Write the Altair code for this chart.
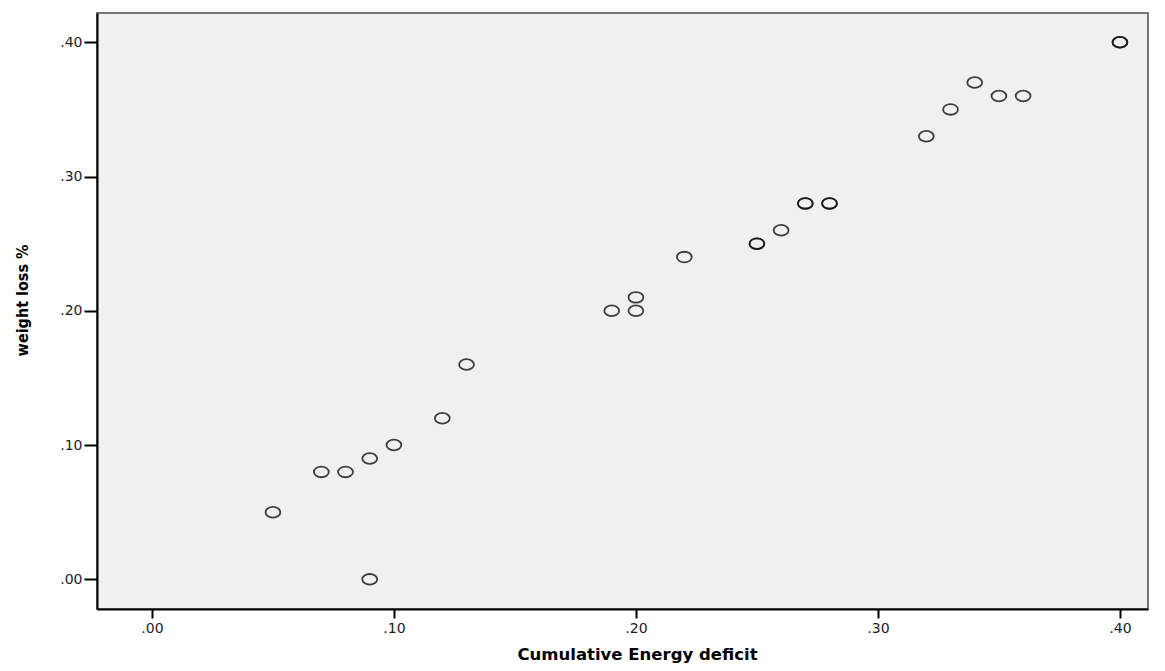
import altair as alt
import pandas as pd

energy_deficit = [0.05, 0.07, 0.08, 0.09, 0.09, 0.10, 0.12, 0.13, 0.19, 0.20, 0.20,
                  0.22, 0.25, 0.25, 0.26, 0.27, 0.27, 0.28, 0.28, 0.32, 0.33, 0.34,
                  0.35, 0.36, 0.40, 0.40]
weight_loss = [0.05, 0.08, 0.08, 0.09, 0.00, 0.10, 0.12, 0.16, 0.20, 0.20, 0.21,
               0.24, 0.25, 0.25, 0.26, 0.28, 0.28, 0.28, 0.28, 0.33, 0.35, 0.37,
               0.36, 0.36, 0.40, 0.40]
tick_values = [0.0, 0.1, 0.2, 0.3, 0.4]

df = pd.DataFrame({"ced": energy_deficit, "wl": weight_loss})

label_expr = "replace(format(datum.value, '.2f'), '0.', '.')"

ellipse = "M -1 0 A 1 0.72 0 1 1 1 0 A 1 0.72 0 1 1 -1 0 Z"

chart = alt.Chart(df).mark_point(
    shape=ellipse, filled=False, stroke="#111", strokeWidth=1.8, size=220, opacity=0.8
).encode(
    x=alt.X("ced:Q", scale=alt.Scale(domain=[-0.0227, 0.4116], nice=False, zero=False),
            axis=alt.Axis(values=tick_values, labelExpr=label_expr, grid=False,
                          title="Cumulative Energy deficit", tickSize=9, tickWidth=2,
                          domainColor="#000", domainWidth=2, tickColor="#000",
                          labelFont="DejaVu Sans", labelFontSize=14, labelColor="#222",
                          labelPadding=3,
                          titleFont="DejaVu Sans", titleFontSize=16.5, titleFontWeight="bold",
                          titleColor="#000", titleX=540, titleY=45, titleAlign="center",
                          titleBaseline="middle")),
    y=alt.Y("wl:Q", scale=alt.Scale(domain=[-0.0221, 0.4218], nice=False, zero=False),
            axis=alt.Axis(values=tick_values, labelExpr=label_expr, grid=False,
                          title="weight loss %", tickSize=13, tickWidth=2,
                          domainColor="#000", domainWidth=2, tickColor="#000",
                          labelFont="DejaVu Sans", labelFontSize=14, labelColor="#222",
                          labelPadding=2,
                          titleFont="DejaVu Sans Condensed, Liberation Sans",
                          titleFontSize=16,
                          titleFontWeight="bold", titleColor="#000", titleAngle=-90,
                          titleX=-75, titleY=287, titleAlign="center",
                          titleBaseline="middle")),
).properties(
    width=1051, height=596,
    autosize=alt.AutoSizeParams(type="none"),
    padding={"left": 89, "top": 5, "right": 5, "bottom": 62},
).configure_view(
    fill="#f0f0f0", stroke="#777", strokeWidth=2
)

chart.save("out.html", embed_options={"renderer": "svg", "actions": False})
